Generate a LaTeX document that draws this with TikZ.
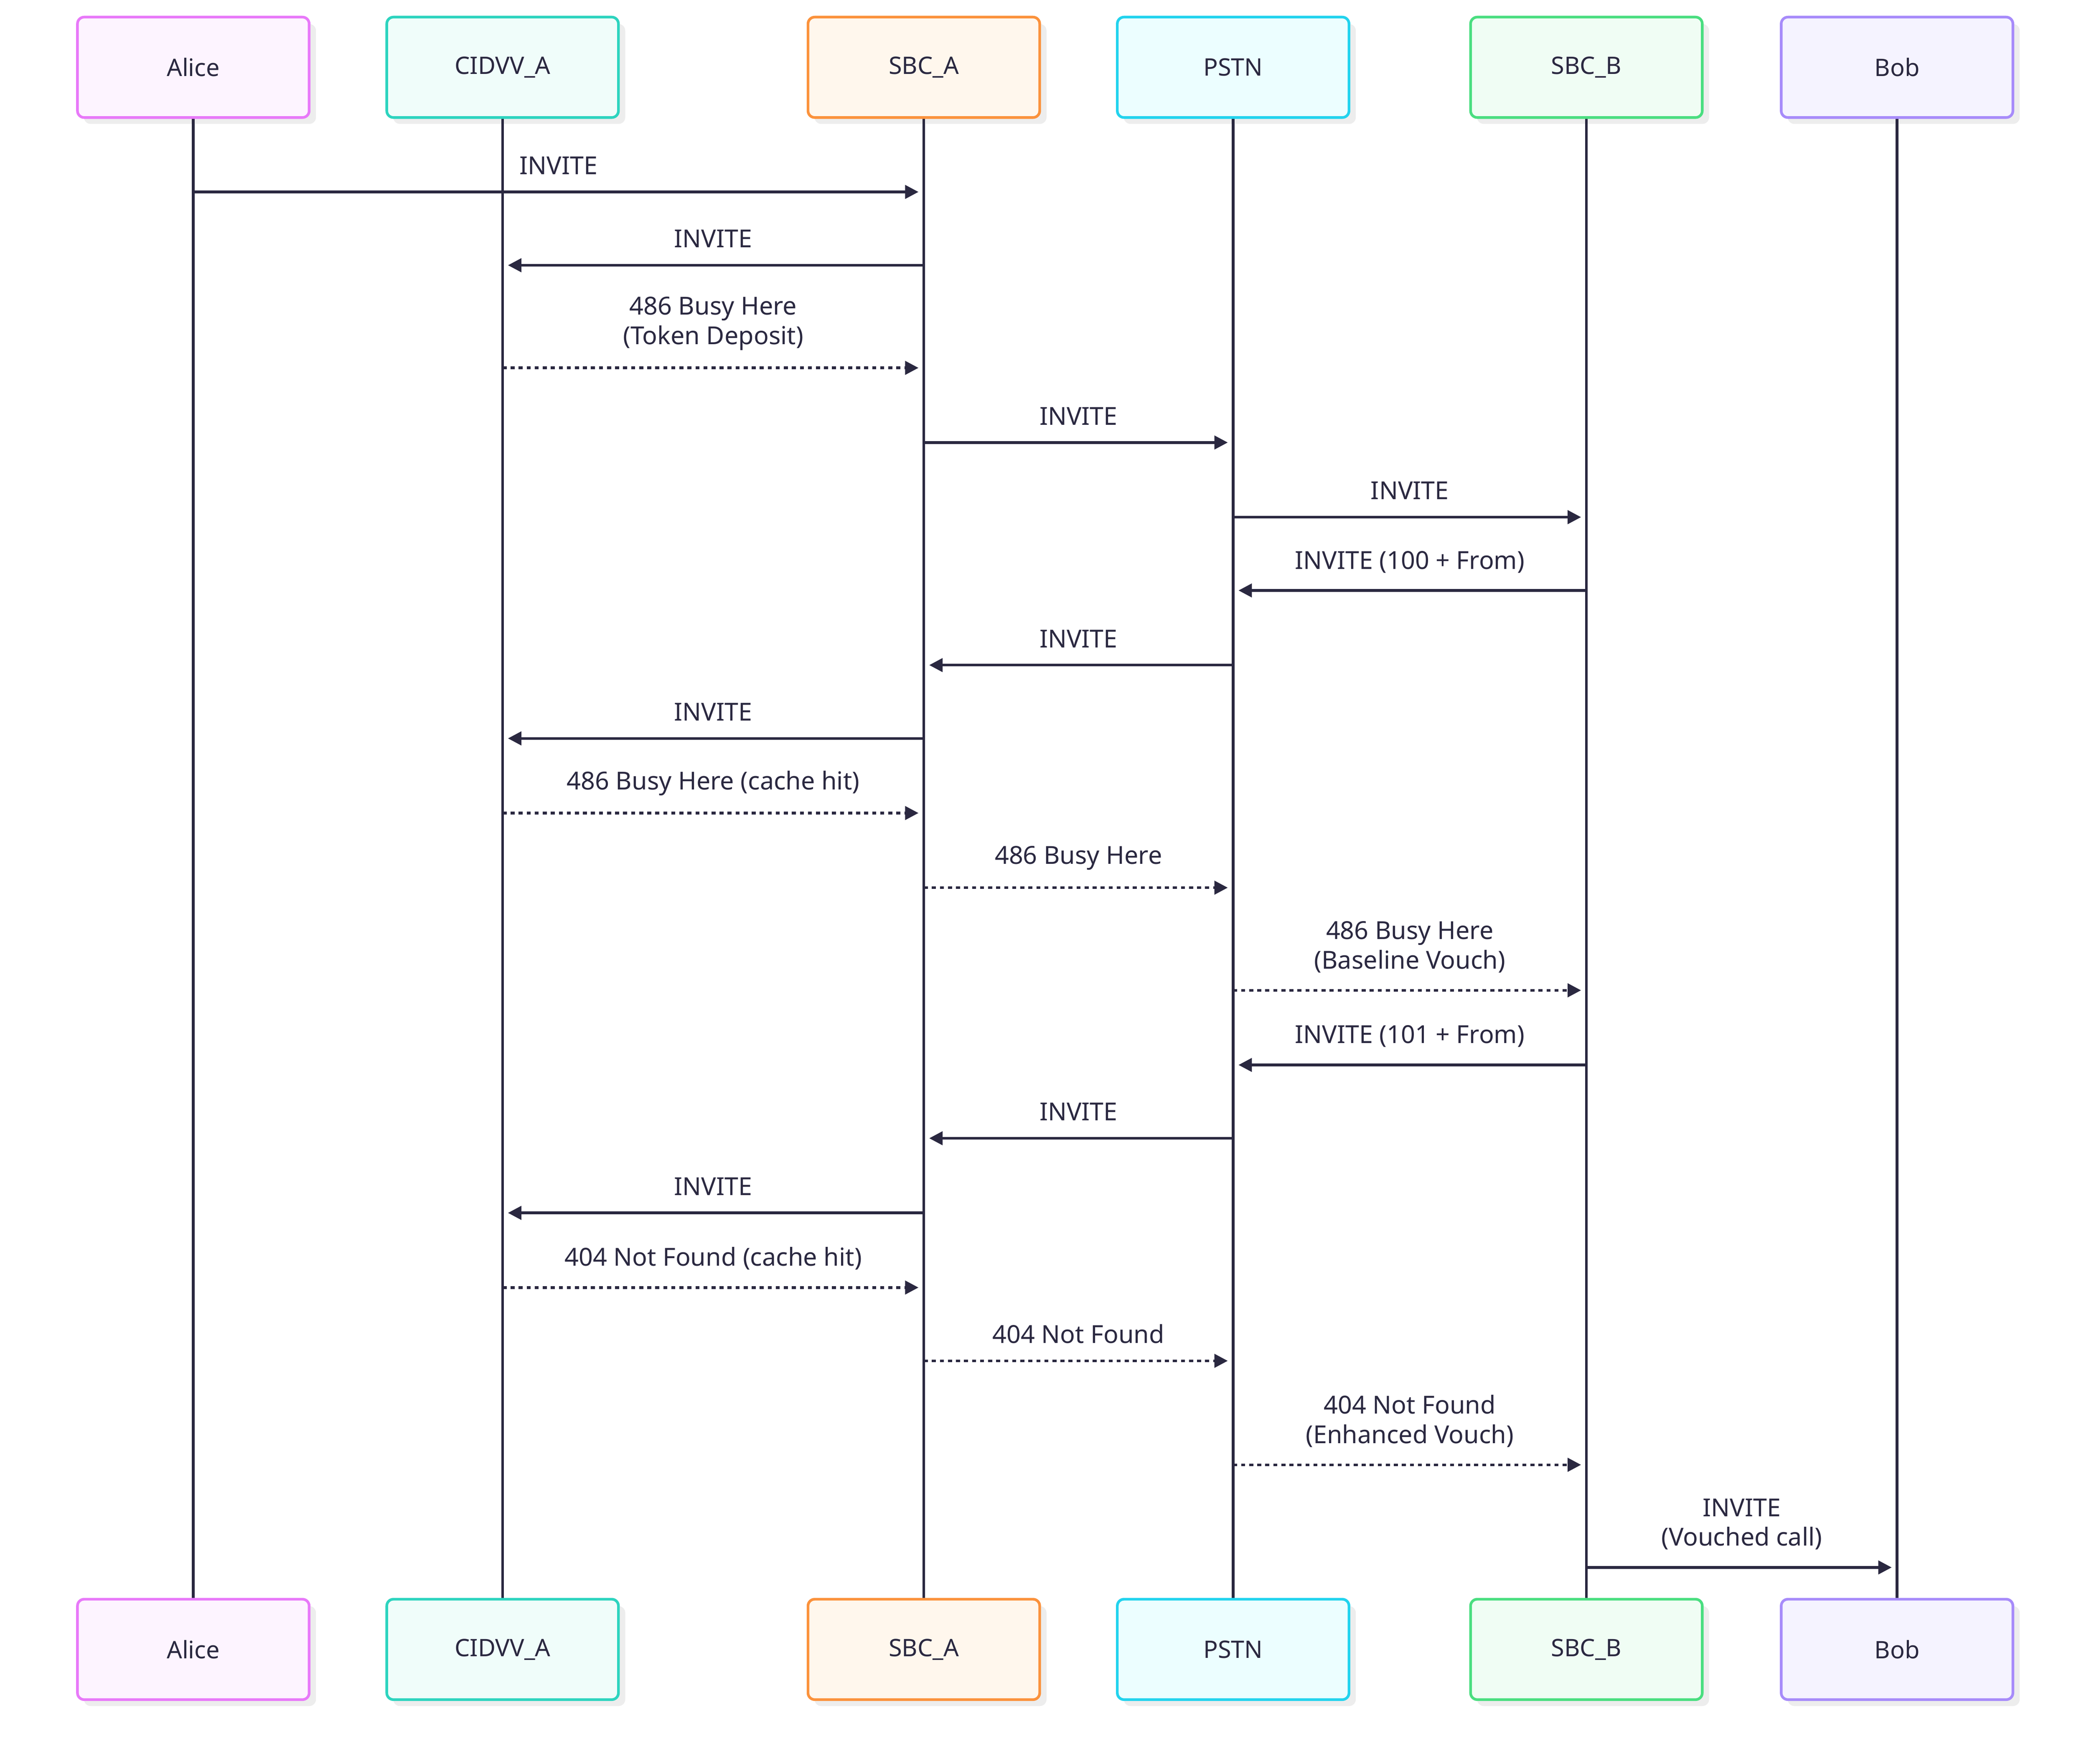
\documentclass[tikz,border=0pt]{standalone}
\usepackage{fontspec}
\setmainfont{Noto Sans}
\usetikzlibrary{arrows.meta,calc}
\definecolor{ink}{HTML}{2A2840}
\tikzset{
  box/.style={rounded corners=5pt, line width=2pt, minimum width=173pt, minimum height=75pt, font=\fontsize{18}{20}\selectfont, text=ink},
  life/.style={ink, line width=2pt},
  msg/.style={ink, line width=2pt, -{Triangle[length=10pt,width=10pt]}, shorten >=4pt},
  rep/.style={msg, dash pattern=on 3pt off 3pt},
  lab/.style={font=\fontsize{18.5}{22}\selectfont, text=ink, align=center, anchor=south, inner sep=2pt},
}
\begin{document}
\begin{tikzpicture}[x=0.9955pt,y=-0.9955pt]
\useasboundingbox (0,0) rectangle (1567,1323.4);
\def\actors{Alice/145/E879F9/FDF4FF/a, CIDVV\_A/377/2DD4BF/F0FDFA/c, SBC\_A/693/FB923C/FFF7ED/s, PSTN/925/22D3EE/ECFEFF/p, SBC\_B/1190/4ADE80/F0FDF4/b, Bob/1423/A78BFA/F5F3FF/o}
\foreach \n/\x/\bc/\fc/\id in \actors {
  \definecolor{bc}{HTML}{\bc}\definecolor{fc}{HTML}{\fc}
  \fill[black!7, rounded corners=5pt] (\x-82,18) rectangle (\x+92,93);
  \fill[black!7, rounded corners=5pt] (\x-82,1205) rectangle (\x+92,1280);
  \draw[life] (\x,88) -- (\x,1200);
  \node[box, draw=bc, fill=fc] (\id t) at (\x,50.5) {\n};
  \node[box, draw=bc, fill=fc] (\id b) at (\x,1237.5) {\n};
}
\foreach \i/\f/\t/\y/\st/\txt in {
 1/a/s/144/msg/INVITE,
 2/s/c/199/msg/INVITE,
 3/c/s/276/rep/{486 Busy Here\\(Token Deposit)},
 4/s/p/332/msg/INVITE,
 5/p/b/388/msg/INVITE,
 6/b/p/443/msg/{INVITE (100 + From)},
 7/p/s/499/msg/INVITE,
 8/s/c/554/msg/INVITE,
 9/c/s/610/rep/{486 Busy Here (cache hit)},
 10/s/p/666/rep/{486 Busy Here},
 11/p/b/743/rep/{486 Busy Here\\(Baseline Vouch)},
 12/b/p/799/msg/{INVITE (101 + From)},
 13/p/s/854/msg/INVITE,
 14/s/c/910/msg/INVITE,
 15/c/s/966/rep/{404 Not Found (cache hit)},
 16/s/p/1021/rep/{404 Not Found},
 17/p/b/1099/rep/{404 Not Found\\(Enhanced Vouch)},
 18/b/o/1176/msg/{INVITE\\(Vouched call)}} {
  \coordinate (m\i f) at (\f t.center |- 0,\y);
  \coordinate (m\i t) at (\t t.center |- 0,\y);
  \draw[\st] (m\i f) -- (m\i t);
  \node[lab] (l\i) at ($(m\i f)!0.5!(m\i t)+(0,-11)$) {\txt};
}
\end{tikzpicture}
\end{document}
